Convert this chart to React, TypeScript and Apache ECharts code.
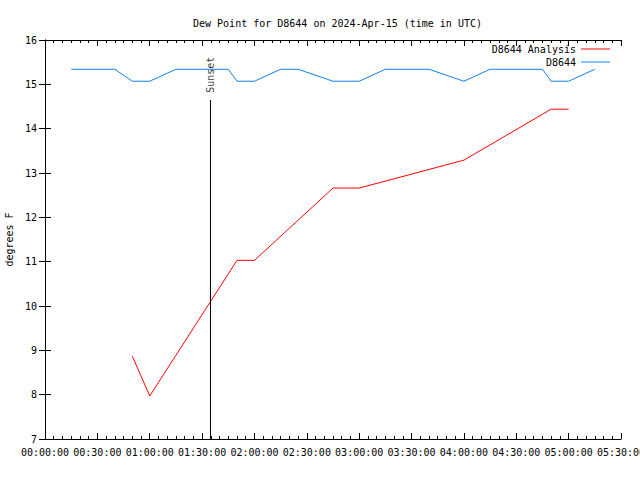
import React, { useEffect, useRef } from "react";
import * as echarts from "echarts";

// minutes after 00:00 UTC
const analysisTimes = [50, 60, 110, 120, 165, 180, 240, 290, 300];
const analysisValues = [8.87, 7.97, 11.03, 11.03, 12.66, 12.66, 13.29, 14.44, 14.44];

const obsTimes = [15, 40, 50, 60, 75, 105, 110, 120, 135, 145, 165, 180, 195, 220, 240, 255, 285, 290, 300, 315];
const obsValues = [15.34, 15.34, 15.07, 15.07, 15.34, 15.34, 15.07, 15.07, 15.34, 15.34, 15.07, 15.07, 15.34, 15.34, 15.07, 15.34, 15.34, 15.07, 15.07, 15.34];

const sunsetTime = 94.8;
const sunsetTop = 14.65;
const yMin = 7;
const yMax = 16;
const xMin = 0;
const xMax = 330;
const xInterval = 30;

const FONT = "DejaVu Sans Mono";

function fmtTime(m: number): string {
  const h = Math.floor(m / 60);
  const mm = Math.round(m - h * 60);
  const p = (n: number) => String(n).padStart(2, "0");
  return `${p(h)}:${p(mm)}:00`;
}

export default function App() {
  const ref = useRef<HTMLDivElement>(null);
  useEffect(() => {
    if (!ref.current) return;
    const chart = echarts.init(ref.current, null, { renderer: "svg" });
    const tickCommon = {
      axisLine: { show: true, lineStyle: { color: "#000", width: 1 } },
      splitLine: { show: false },
    };
    const legendCommon = {
      right: 30,
      itemWidth: 29,
      itemHeight: 1,
      icon: "rect",
      textStyle: { fontFamily: FONT, fontSize: 10, color: "#000" },
      align: "right",
      padding: 0,
    };
    chart.setOption({
      animation: false,
      backgroundColor: "#fff",
      textStyle: { fontFamily: FONT },
      title: {
        text: "Dew Point for D8644 on 2024-Apr-15 (time in UTC)",
        left: 188,
        top: 13,
        textStyle: { fontFamily: FONT, fontSize: 10, fontWeight: "normal", color: "#000" },
      },
      legend: [
        { ...legendCommon, data: ["D8644 Analysis"], top: 44 },
        { ...legendCommon, data: ["D8644"], top: 57 },
      ],
      grid: { left: 45, right: 19, top: 40, bottom: 41, containLabel: false, outerBoundsMode: "none" },
      xAxis: [
        {
          type: "value",
          min: xMin,
          max: xMax,
          interval: xInterval,
          ...tickCommon,
          axisTick: { show: true, inside: true, length: 6, lineStyle: { color: "#000" } },
          minorTick: { show: true, splitNumber: 6, length: 3, lineStyle: { color: "#000" } },
          axisLabel: {
            formatter: (v: number) => fmtTime(v),
            fontFamily: FONT,
            fontSize: 10,
            color: "#000",
            margin: 8,
            hideOverlap: false,
          },
        },
        {
          type: "value",
          position: "top",
          min: xMin,
          max: xMax,
          interval: xInterval,
          ...tickCommon,
          axisTick: { show: true, inside: true, length: 6, lineStyle: { color: "#000" } },
          minorTick: { show: true, splitNumber: 6, length: 3, lineStyle: { color: "#000" } },
          axisLabel: { show: false },
        },
      ],
      yAxis: [
        {
          type: "value",
          min: yMin,
          max: yMax,
          interval: 1,
          name: "degrees F",
          nameLocation: "middle",
          nameGap: 30,
          nameTextStyle: { fontFamily: FONT, fontSize: 10, color: "#000" },
          ...tickCommon,
          axisTick: { show: true, inside: true, length: 6, lineStyle: { color: "#000" } },
          axisLabel: { fontFamily: FONT, fontSize: 10, color: "#000", margin: 8 },
        },
        {
          type: "value",
          position: "right",
          min: yMin,
          max: yMax,
          interval: 1,
          ...tickCommon,
          axisTick: { show: true, inside: true, length: 6, lineStyle: { color: "#000" } },
          axisLabel: { show: false },
        },
      ],
      series: [
        {
          name: "D8644 Analysis",
          type: "line",
          data: analysisTimes.map((t, i) => [t, analysisValues[i]]),
          symbol: "none",
          color: "#ff0000",
          lineStyle: { color: "#ff0000", width: 1 },
        },
        {
          name: "D8644",
          type: "line",
          data: obsTimes.map((t, i) => [t, obsValues[i]]),
          symbol: "none",
          color: "#1080f0",
          lineStyle: { color: "#1080f0", width: 1 },
        },
        {
          name: "sunsetLine",
          type: "line",
          data: [
            [sunsetTime, yMin],
            [sunsetTime, sunsetTop],
          ],
          symbol: "none",
          color: "#000",
          lineStyle: { color: "#000", width: 1 },
        },
        {
          name: "sunsetLabel",
          type: "scatter",
          data: [[sunsetTime, sunsetTop]],
          symbolSize: 0,
          label: {
            show: true,
            formatter: "Sunset",
            position: "top",
            distance: 7,
            rotate: 90,
            align: "left",
            verticalAlign: "middle",
            fontFamily: FONT,
            fontSize: 10,
            color: "#000",
          },
        },
      ],
    });
    return () => chart.dispose();
  }, []);
  return (
    <div
      ref={ref}
      style={{ position: "fixed", left: 0, top: 0, width: 640, height: 480, background: "#fff" }}
    />
  );
}
